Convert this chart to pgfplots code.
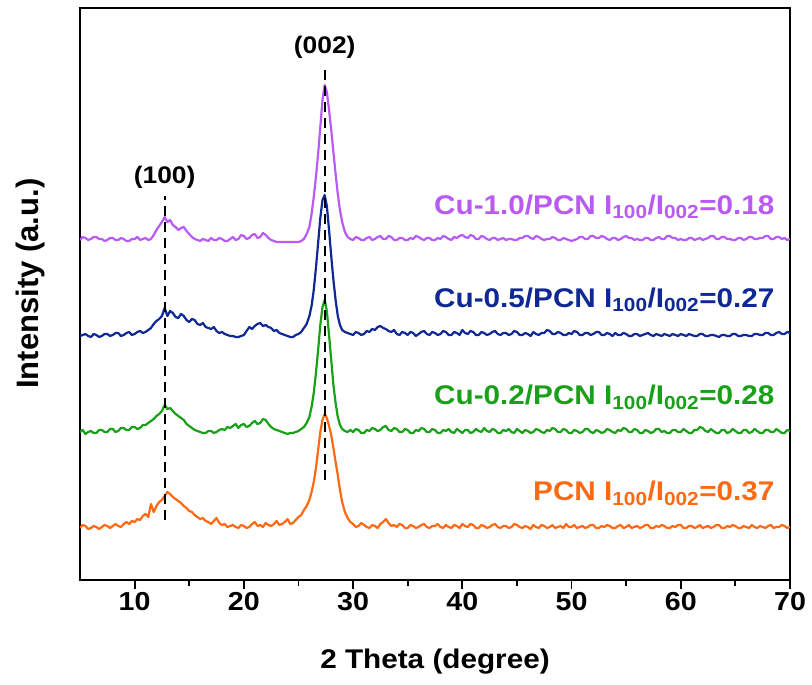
\documentclass[border=0pt]{standalone}
\usepackage{pgfplots}
\usepackage{pgfplotstable}
\pgfplotsset{compat=1.18}
\usepackage{fontspec}
\setmainfont{Liberation Sans}[FakeStretch=1.1]
\newfontfamily\ylabfont{Liberation Sans}

\definecolor{cpurple}{RGB}{185,90,245}
\definecolor{cblue}{RGB}{15,40,150}
\definecolor{cgreen}{RGB}{25,160,25}
\definecolor{corange}{RGB}{255,105,20}

% relative heights above each pattern's own baseline
\pgfplotstableread[row sep=\\]{
x y\\
5 2\\5.25 5\\5.5 4\\5.75 1\\6 2\\6.25 4\\6.5 3\\6.75 1\\7 3\\7.25 5\\7.5 4\\7.75 2\\8 4\\8.25 6\\8.5 4\\8.75 3\\9 6\\9.25 8\\9.5 6\\9.75 9\\
10 8\\10.25 11\\10.5 10\\10.75 14\\11 16\\11.25 13\\11.5 26\\11.75 18\\12 24\\12.25 28\\12.5 30\\12.75 34\\13 38\\13.25 36\\13.5 33\\13.75 31\\14 29\\14.25 27\\14.5 24\\14.75 22\\
15 19\\15.25 18\\15.5 15\\15.75 13\\16 11\\16.25 12\\16.5 9\\16.75 8\\17 6\\17.25 9\\17.5 12\\17.75 7\\18 5\\18.25 6\\18.5 3\\18.75 4\\19 5\\19.25 3\\19.5 2\\19.75 5\\
20 4\\20.25 2\\20.5 3\\20.75 6\\21 8\\21.25 4\\21.5 5\\21.75 3\\22 7\\22.25 5\\22.5 4\\22.75 6\\23 9\\23.25 5\\23.5 6\\23.75 8\\24 11\\24.25 6\\24.5 7\\24.75 10\\
25 13\\25.25 15\\25.5 20\\25.75 24\\26 30\\26.2 38\\26.4 48\\26.6 62\\26.8 80\\27 98\\27.2 110\\27.4 116\\27.6 112\\27.8 104\\28 95\\28.2 82\\28.4 68\\28.6 55\\28.8 40\\29 28\\29.25 18\\29.5 12\\29.75 8\\
30 6\\30.25 3\\30.5 4\\30.75 7\\31 5\\31.25 3\\31.5 2\\31.75 5\\32 4\\32.25 2\\32.5 6\\32.75 8\\33 11\\33.25 7\\33.5 4\\33.75 5\\34 3\\34.25 6\\34.5 5\\34.75 2\\
35 2\\35.25 5\\35.5 4\\35.75 2\\36 3\\36.25 5\\36.5 6\\36.75 3\\37 2\\37.25 4\\37.5 4\\37.75 6\\38 3\\38.25 2\\38.5 5\\38.75 3\\39 2\\39.25 5\\39.5 4\\39.75 2\\
40 6\\40.25 4\\40.5 3\\40.75 6\\41 5\\41.25 2\\41.5 2\\41.75 5\\42 4\\42.25 2\\42.5 3\\42.75 5\\43 6\\43.25 3\\43.5 2\\43.75 4\\44 4\\44.25 2\\44.5 3\\44.75 6\\
45 5\\45.25 3\\45.5 2\\45.75 4\\46 3\\46.25 1\\46.5 5\\46.75 3\\47 2\\47.25 5\\47.5 4\\47.75 2\\48 3\\48.25 5\\48.5 2\\48.75 3\\49 4\\49.25 2\\49.5 6\\49.75 3\\
50 3\\50.25 5\\50.5 2\\50.75 3\\51 4\\51.25 2\\51.5 3\\51.75 5\\52 5\\52.25 2\\52.5 2\\52.75 4\\53 3\\53.25 5\\53.5 4\\53.75 2\\54 2\\54.25 4\\54.5 5\\54.75 2\\
55 3\\55.25 5\\55.5 2\\55.75 3\\56 4\\56.25 2\\56.5 3\\56.75 5\\57 5\\57.25 2\\57.5 2\\57.75 4\\58 3\\58.25 5\\58.5 4\\58.75 2\\59 2\\59.25 4\\59.5 3\\59.75 5\\
60 5\\60.25 2\\60.5 2\\60.75 4\\61 4\\61.25 2\\61.5 3\\61.75 5\\62 2\\62.25 3\\62.5 4\\62.75 2\\63 3\\63.25 5\\63.5 5\\63.75 2\\64 2\\64.25 4\\64.5 3\\64.75 5\\
65 4\\65.25 2\\65.5 2\\65.75 4\\66 3\\66.25 2\\66.5 5\\66.75 3\\67 2\\67.25 4\\67.5 3\\67.75 2\\68 4\\68.25 5\\68.5 2\\68.75 3\\69 3\\69.25 5\\69.5 4\\69.75 2\\70 3\\
}\pcn

\pgfplotstableread[row sep=\\]{
x y\\
5 3\\5.25 5\\5.5 1\\5.75 3\\6 4\\6.25 2\\6.5 2\\6.75 5\\7 5\\7.25 3\\7.5 3\\7.75 6\\8 6\\8.25 3\\8.5 4\\8.75 7\\9 7\\9.25 5\\9.5 5\\9.75 8\\
10 8\\10.25 6\\10.5 7\\10.75 10\\11 10\\11.25 12\\11.5 14\\11.75 16\\12 19\\12.25 21\\12.5 24\\12.75 30\\13 26\\13.25 27\\13.5 24\\13.75 21\\14 19\\14.25 17\\14.5 15\\14.75 11\\
15 9\\15.25 7\\15.5 5\\15.75 4\\16 3\\16.25 2\\16.5 2\\16.75 4\\17 4\\17.25 2\\17.5 3\\17.75 5\\18 6\\18.25 5\\18.5 8\\18.75 7\\19 9\\19.25 11\\19.5 7\\19.75 10\\
20 11\\20.25 8\\20.5 9\\20.75 12\\21 14\\21.25 11\\21.5 12\\21.75 16\\22 15\\22.25 11\\22.5 8\\22.75 6\\23 5\\23.25 4\\23.5 3\\23.75 2\\24 1\\24.25 2\\24.5 2\\24.75 3\\
25 4\\25.25 6\\25.5 8\\25.75 12\\26 18\\26.2 28\\26.4 42\\26.6 62\\26.8 85\\27 110\\27.2 128\\27.4 135\\27.6 124\\27.8 100\\28 75\\28.2 50\\28.4 32\\28.6 18\\28.8 10\\29 6\\29.25 4\\29.5 3\\29.75 5\\
30 3\\30.25 6\\30.5 5\\30.75 2\\31 2\\31.25 5\\31.5 4\\31.75 7\\32 6\\32.25 4\\32.5 5\\32.75 8\\33 9\\33.25 5\\33.5 4\\33.75 7\\34 6\\34.25 3\\34.5 3\\34.75 6\\
35 5\\35.25 2\\35.5 2\\35.75 5\\36 4\\36.25 7\\36.5 6\\36.75 3\\37 3\\37.25 6\\37.5 5\\37.75 2\\38 2\\38.25 5\\38.5 4\\38.75 6\\39 3\\39.25 2\\39.5 6\\39.75 4\\
40 2\\40.25 5\\40.5 5\\40.75 2\\41 3\\41.25 6\\41.5 4\\41.75 3\\42 7\\42.25 4\\42.5 3\\42.75 6\\43 5\\43.25 2\\43.5 2\\43.75 5\\44 4\\44.25 6\\44.5 3\\44.75 2\\
45 6\\45.25 4\\45.5 2\\45.75 5\\46 4\\46.25 2\\46.5 3\\46.75 6\\47 5\\47.25 3\\47.5 2\\47.75 5\\48 4\\48.25 7\\48.5 6\\48.75 3\\49 3\\49.25 6\\49.5 5\\49.75 2\\
50 2\\50.25 5\\50.5 4\\50.75 2\\51 3\\51.25 6\\51.5 6\\51.75 3\\52 2\\52.25 5\\52.5 4\\52.75 2\\53 3\\53.25 6\\53.5 5\\53.75 3\\54 2\\54.25 5\\54.5 4\\54.75 7\\
55 6\\55.25 3\\55.5 3\\55.75 6\\56 5\\56.25 2\\56.5 2\\56.75 5\\57 4\\57.25 2\\57.5 3\\57.75 6\\58 6\\58.25 3\\58.5 4\\58.75 2\\59 2\\59.25 5\\59.5 5\\59.75 3\\
60 3\\60.25 6\\60.5 4\\60.75 2\\61 2\\61.25 5\\61.5 5\\61.75 8\\62 7\\62.25 4\\62.5 3\\62.75 6\\63 4\\63.25 2\\63.5 2\\63.75 5\\64 5\\64.25 2\\64.5 3\\64.75 6\\
65 4\\65.25 2\\65.5 2\\65.75 5\\66 5\\66.25 2\\66.5 3\\66.75 6\\67 4\\67.25 2\\67.5 2\\67.75 5\\68 5\\68.25 3\\68.5 3\\68.75 6\\69 4\\69.25 2\\69.5 2\\69.75 5\\70 4\\
}\cutwo

\pgfplotstableread[row sep=\\]{
x y\\
5 2\\5.25 3\\5.5 4\\5.75 2\\6 1\\6.25 4\\6.5 3\\6.75 1\\7 2\\7.25 4\\7.5 4\\7.75 2\\8 3\\8.25 5\\8.5 5\\8.75 2\\9 3\\9.25 5\\9.5 6\\9.75 3\\
10 4\\10.25 6\\10.5 7\\10.75 5\\11 6\\11.25 8\\11.5 10\\11.75 14\\12 17\\12.25 19\\12.5 22\\12.75 30\\13 22\\13.25 27\\13.5 25\\13.75 21\\14 20\\14.25 24\\14.5 22\\14.75 18\\
15 16\\15.25 19\\15.5 18\\15.75 14\\16 13\\16.25 15\\16.5 11\\16.75 10\\17 9\\17.25 11\\17.5 7\\17.75 5\\18 6\\18.25 4\\18.5 3\\18.75 2\\19 2\\19.25 1\\19.5 1\\19.75 2\\
20 3\\20.25 7\\20.5 11\\20.75 9\\21 12\\21.25 14\\21.5 15\\21.75 12\\22 13\\22.25 11\\22.5 10\\22.75 7\\23 8\\23.25 5\\23.5 4\\23.75 3\\24 2\\24.25 1\\24.5 1\\24.75 3\\
25 4\\25.25 6\\25.5 10\\25.75 14\\26 22\\26.2 32\\26.4 48\\26.6 70\\26.8 95\\27 120\\27.2 138\\27.4 143\\27.6 132\\27.8 108\\28 82\\28.2 58\\28.4 38\\28.6 22\\28.8 13\\29 8\\29.25 6\\29.5 5\\29.75 4\\
30 3\\30.25 6\\30.5 5\\30.75 3\\31 4\\31.25 7\\31.5 6\\31.75 9\\32 8\\32.25 11\\32.5 12\\32.75 10\\33 9\\33.25 7\\33.5 6\\33.75 8\\34 4\\34.25 3\\34.5 6\\34.75 5\\
35 3\\35.25 6\\35.5 5\\35.75 2\\36 4\\36.25 6\\36.5 7\\36.75 4\\37 3\\37.25 6\\37.5 5\\37.75 3\\38 4\\38.25 7\\38.5 6\\38.75 3\\39 3\\39.25 6\\39.5 5\\39.75 3\\
40 8\\40.25 5\\40.5 4\\40.75 7\\41 6\\41.25 3\\41.5 3\\41.75 6\\42 5\\42.25 3\\42.5 4\\42.75 6\\43 7\\43.25 4\\43.5 3\\43.75 5\\44 5\\44.25 3\\44.5 4\\44.75 7\\
45 6\\45.25 3\\45.5 3\\45.75 5\\46 4\\46.25 2\\46.5 6\\46.75 4\\47 3\\47.25 5\\47.5 5\\47.75 8\\48 7\\48.25 4\\48.5 4\\48.75 6\\49 5\\49.25 3\\49.5 3\\49.75 5\\
50 4\\50.25 7\\50.5 6\\50.75 3\\51 3\\51.25 5\\51.5 5\\51.75 3\\52 4\\52.25 6\\52.5 6\\52.75 3\\53 3\\53.25 5\\53.5 4\\53.75 2\\54 5\\54.25 3\\54.5 3\\54.75 5\\
55 4\\55.25 2\\55.5 2\\55.75 4\\56 4\\56.25 2\\56.5 3\\56.75 4\\57 5\\57.25 3\\57.5 2\\57.75 4\\58 3\\58.25 2\\58.5 4\\58.75 3\\59 2\\59.25 4\\59.5 3\\59.75 2\\
60 4\\60.25 3\\60.5 2\\60.75 4\\61 3\\61.25 2\\61.5 2\\61.75 4\\62 4\\62.25 2\\62.5 2\\62.75 3\\63 3\\63.25 2\\63.5 1\\63.75 3\\64 3\\64.25 2\\64.5 2\\64.75 4\\
65 4\\65.25 2\\65.5 2\\65.75 3\\66 3\\66.25 2\\66.5 2\\66.75 4\\67 4\\67.25 3\\67.5 3\\67.75 5\\68 5\\68.25 3\\68.5 3\\68.75 5\\69 6\\69.25 4\\69.5 4\\69.75 6\\70 5\\
}\cufive

\pgfplotstableread[row sep=\\]{
x y\\
5 2\\5.25 5\\5.5 4\\5.75 2\\6 3\\6.25 5\\6.5 5\\6.75 3\\7 3\\7.25 1\\7.5 2\\7.75 4\\8 4\\8.25 2\\8.5 2\\8.75 4\\9 3\\9.25 1\\9.5 1\\9.75 3\\
10 3\\10.25 5\\10.5 2\\10.75 3\\11 4\\11.25 2\\11.5 3\\11.75 7\\12 12\\12.25 16\\12.5 20\\12.75 25\\13 20\\13.25 22\\13.5 17\\13.75 15\\14 12\\14.25 14\\14.5 15\\14.75 11\\
15 8\\15.25 5\\15.5 3\\15.75 2\\16 1\\16.25 3\\16.5 2\\16.75 1\\17 4\\17.25 2\\17.5 2\\17.75 4\\18 3\\18.25 1\\18.5 1\\18.75 3\\19 5\\19.25 2\\19.5 3\\19.75 7\\
20 6\\20.25 3\\20.5 4\\20.75 7\\21 8\\21.25 4\\21.5 5\\21.75 9\\22 7\\22.25 4\\22.5 2\\22.75 1\\23 0\\24 0\\25 0\\25.25 1\\
25.5 3\\25.75 8\\26 15\\26.2 28\\26.4 45\\26.6 65\\26.8 88\\27 115\\27.2 142\\27.4 157\\27.6 150\\27.8 132\\28 112\\28.2 90\\28.4 68\\28.6 48\\28.8 32\\29 20\\29.25 10\\29.5 5\\29.75 3\\
30 2\\30.25 5\\30.5 4\\30.75 2\\31 2\\31.25 4\\31.5 5\\31.75 2\\32 3\\32.25 5\\32.5 6\\32.75 3\\33 3\\33.25 6\\33.5 5\\33.75 2\\34 2\\34.25 4\\34.5 4\\34.75 2\\
35 2\\35.25 4\\35.5 3\\35.75 6\\36 5\\36.25 3\\36.5 2\\36.75 4\\37 4\\37.25 2\\37.5 2\\37.75 4\\38 3\\38.25 6\\38.5 5\\38.75 3\\39 2\\39.25 5\\39.5 4\\39.75 6\\
40 7\\40.25 5\\40.5 4\\40.75 7\\41 6\\41.25 3\\41.5 3\\41.75 6\\42 5\\42.25 3\\42.5 2\\42.75 4\\43 4\\43.25 2\\43.5 3\\43.75 4\\44 2\\44.25 3\\44.5 3\\44.75 2\\
45 2\\45.25 4\\45.5 4\\45.75 6\\46 6\\46.25 4\\46.5 3\\46.75 6\\47 5\\47.25 3\\47.5 2\\47.75 3\\48 3\\48.25 5\\48.5 4\\48.75 2\\49 2\\49.25 4\\49.5 3\\49.75 2\\
50 1\\50.25 2\\50.5 3\\50.75 5\\51 5\\51.25 3\\51.5 3\\51.75 6\\52 6\\52.25 4\\52.5 4\\52.75 6\\53 5\\53.25 3\\53.5 2\\53.75 4\\54 4\\54.25 2\\54.5 3\\54.75 5\\
55 6\\55.25 4\\55.5 4\\55.75 2\\56 3\\56.25 2\\56.5 2\\56.75 4\\57 4\\57.25 2\\57.5 2\\57.75 4\\58 5\\58.25 3\\58.5 3\\58.75 6\\59 6\\59.25 4\\59.5 4\\59.75 2\\
60 3\\60.25 2\\60.5 2\\60.75 4\\61 4\\61.25 2\\61.5 3\\61.75 4\\62 2\\62.25 3\\62.5 4\\62.75 6\\63 6\\63.25 3\\63.5 3\\63.75 5\\64 5\\64.25 3\\64.5 3\\64.75 2\\
65 2\\65.25 4\\65.5 4\\65.75 2\\66 3\\66.25 5\\66.5 5\\66.75 3\\67 3\\67.25 4\\67.5 4\\67.75 6\\68 6\\68.25 3\\68.5 3\\68.75 5\\69 5\\69.25 3\\69.5 4\\69.75 2\\70 3\\
}\cuone

\begin{document}
\begin{tikzpicture}
\begin{axis}[
    name=ax,
    scale only axis,
    width=710pt, height=572pt,
    xmin=5, xmax=70, ymin=0, ymax=572,
    xtick={10,20,...,70},
    minor x tick num=1,
    ytick=\empty,
    xtick pos=bottom,
    tick align=outside,
    major tick length=9pt,
    minor tick length=6pt,
    tick style={black, line width=1.8pt},
    axis line style={line width=1.8pt},
    tick label style={font=\fontsize{26}{30}\selectfont\bfseries},
    /pgf/number format/assume math mode=true,
    xlabel={2 Theta (degree)},
    ylabel={\ylabfont Intensity (a.u.)},
    xlabel style={font=\fontsize{27}{32}\selectfont\bfseries,
      at={(axis description cs:0.5,-0.154)}, anchor=base},
    ylabel style={font=\fontsize{31}{36}\selectfont\bfseries,
      at={(axis description cs:-0.059,0.518)}, anchor=base},
    every axis plot/.append style={line width=2.2pt, line join=round},
  ]
  \addplot[corange] table[y expr=\thisrow{y}+50] {\pcn};
  \addplot[cgreen] table[y expr=\thisrow{y}+145] {\cutwo};
  \addplot[cblue] table[y expr=\thisrow{y}+242] {\cufive};
  \addplot[cpurple] table[y expr=\thisrow{y}+338] {\cuone};

  \draw[black, line width=2pt, dash pattern=on 10pt off 6pt] (axis cs:12.75,60) -- (axis cs:12.75,384);
  \draw[black, line width=2pt, dash pattern=on 10pt off 6pt] (axis cs:27.4,100) -- (axis cs:27.4,512);
  \node[font=\fontsize{24}{28}\selectfont\bfseries] at (axis cs:12.75,403) {(100)};
  \node[font=\fontsize{24}{28}\selectfont\bfseries] at (axis cs:27.4,533) {(002)};

  \node[anchor=east, text=cpurple, font=\fontsize{27}{32}\selectfont\bfseries] at (axis cs:68.9,373) {Cu-1.0/PCN I\textsubscript{100}/I\textsubscript{002}=0.18};
  \node[anchor=east, text=cblue, font=\fontsize{27}{32}\selectfont\bfseries] at (axis cs:68.9,280) {Cu-0.5/PCN I\textsubscript{100}/I\textsubscript{002}=0.27};
  \node[anchor=east, text=cgreen, font=\fontsize{27}{32}\selectfont\bfseries] at (axis cs:68.9,183) {Cu-0.2/PCN I\textsubscript{100}/I\textsubscript{002}=0.28};
  \node[anchor=east, text=corange, font=\fontsize{27}{32}\selectfont\bfseries] at (axis cs:68.9,87) {PCN I\textsubscript{100}/I\textsubscript{002}=0.37};
\end{axis}
\path ([shift={(-80pt,-104pt)}]ax.south west) rectangle ([shift={(22pt,8pt)}]ax.north east);
\end{tikzpicture}
\end{document}
